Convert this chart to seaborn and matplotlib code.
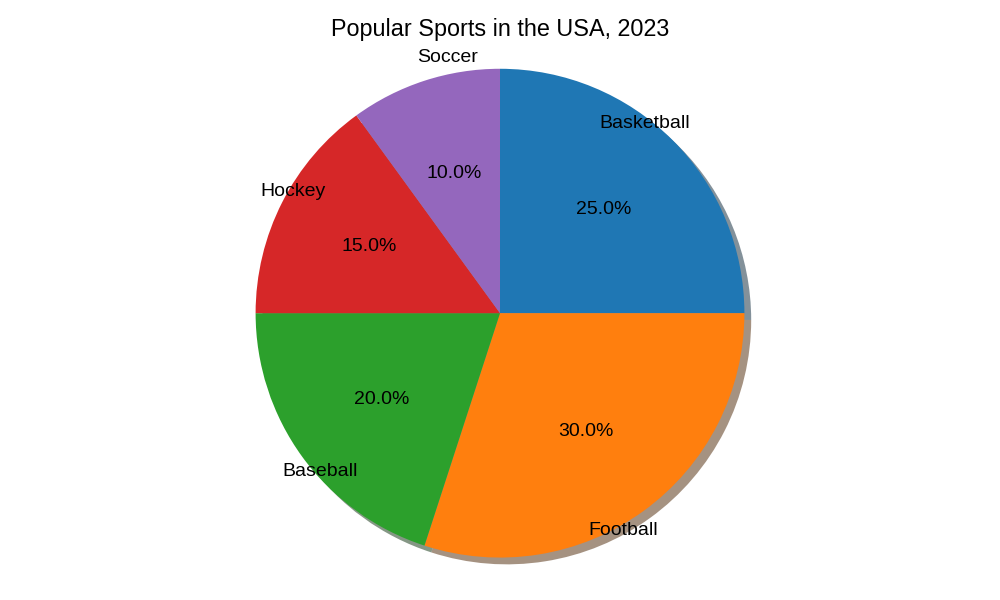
import matplotlib
matplotlib.use("Agg")
import matplotlib.pyplot as plt
import seaborn as sns

sports = ["Basketball", "Football", "Baseball", "Hockey", "Soccer"]
shares = [25, 30, 20, 15, 10]

sns.set_theme(style="white")
plt.rcParams['font.family'] = ['Liberation Sans', 'DejaVu Sans']
colors = sns.color_palette("tab10", 5)

fig, ax = plt.subplots(figsize=(10, 6), dpi=100)
wedges, texts, autotexts = ax.pie(shares, labels=sports, colors=colors,
                                  autopct='%1.1f%%', startangle=90, shadow=True,
                                  wedgeprops={'linewidth': 0, 'edgecolor': 'none'},
                                  textprops={'fontsize': 14, 'color': 'black'})
ax.invert_xaxis()
ax.axis('equal')
ax.set_title("Popular Sports in the USA, 2023", fontsize=16.8, color='black')
fig.tight_layout()
fig.savefig("out.png")
